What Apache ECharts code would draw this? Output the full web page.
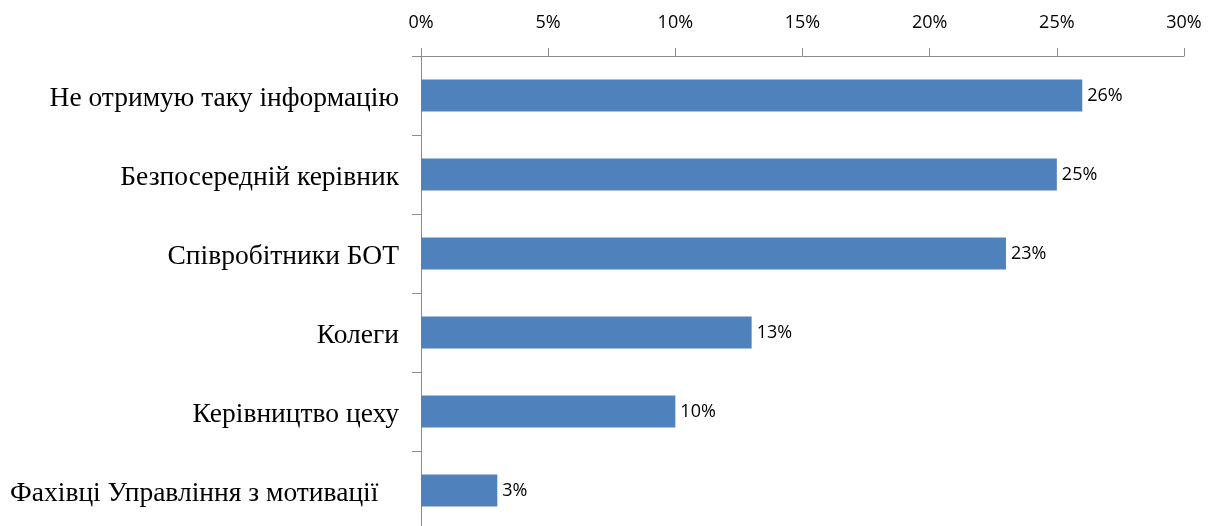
<!DOCTYPE html>
<html>
<head>
<meta charset="utf-8">
<script src="https://cdn.jsdelivr.net/npm/echarts@6/dist/echarts.min.js"></script>
<style>
  html, body { margin: 0; padding: 0; background: #fff; overflow: hidden; }
  #chart { width: 1210px; height: 540px; }
</style>
</head>
<body>
<div id="chart"></div>
<script>
// Sources of information, top to bottom
const categories = [
  'Не отримую таку інформацію',
  'Безпосередній керівник',
  'Співробітники БОТ',
  'Колеги',
  'Керівництво цеху',
  'Фахівці Управління з мотивації   '
];
// Share of respondents, %
const shares = [26, 25, 23, 13, 10, 3];
const axisTicks = [0, 5, 10, 15, 20, 25, 30];

const chart = echarts.init(document.getElementById('chart'));
const axisGrey = '#8c8c8c';

chart.setOption({
  animation: false,
  grid: { left: 421, right: 26, top: 56, height: 474 },
  xAxis: {
    type: 'value',
    position: 'top',
    min: axisTicks[0],
    max: axisTicks[axisTicks.length - 1],
    interval: axisTicks[1] - axisTicks[0],
    axisLine: { show: true, lineStyle: { color: axisGrey, width: 1 } },
    axisTick: { show: true, inside: false, length: 8, lineStyle: { color: axisGrey } },
    splitLine: { show: false },
    axisLabel: {
      formatter: v => v + '%',
      color: '#000',
      fontFamily: 'Open Sans',
      fontSize: 18,
      margin: 24
    }
  },
  yAxis: {
    type: 'category',
    data: categories,
    inverse: true,
    axisLine: { show: true, lineStyle: { color: axisGrey, width: 1 } },
    axisTick: { show: true, length: 9, alignWithLabel: false, lineStyle: { color: axisGrey } },
    axisLabel: {
      margin: 22,
      formatter: v => '{c|' + v + '}',
      rich: {
        c: {
          color: '#000',
          fontFamily: 'Liberation Serif',
          fontSize: 27.5,
          padding: [7, 0, 0, 0]
        }
      }
    }
  },
  series: [{
    type: 'bar',
    data: shares,
    barWidth: 32,
    itemStyle: { color: '#4F81BD' },
    label: {
      show: true,
      position: 'right',
      distance: 5,
      formatter: p => p.value + '%',
      color: '#000',
      fontFamily: 'Open Sans',
      fontSize: 18
    }
  }]
});
</script>
</body>
</html>
